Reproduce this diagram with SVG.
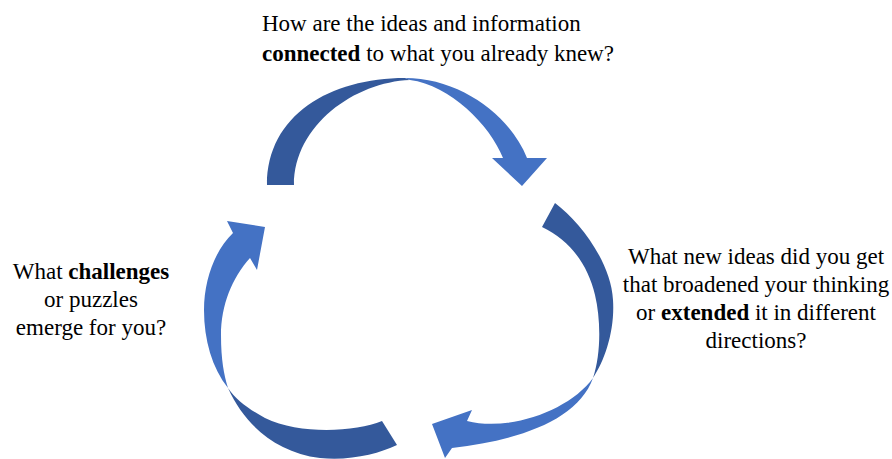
<svg xmlns="http://www.w3.org/2000/svg" width="892" height="459" viewBox="0 0 892 459">
<style>
.t{font-family:'Liberation Serif','Times New Roman',serif;font-size:23px;fill:#000}
.b{font-weight:bold}
.dk{fill:#34599B}
.lt{fill:#4472C4}
</style>
<rect width="892" height="459" fill="#fff"/>
<g id="connectors">
  <g id="arrow-top">
    <path class="dk" d="M267,185 C267,115 330,78 405,78 L410,80 C355,82 294,125 294,185 Z"/>
    <path class="lt" d="M405,78 C460,78 510,115 527,158 L547,158 L522,186 L492,158 L503,158 C490,125 450,85 410,80 Z"/>
  </g>
  <g id="arrow-right">
    <path class="dk" d="M555,203 C580,222 611,262 613,300 C615,330 605,360 593,378 C601,355 601,320 595,295 C588,265 570,240 542,227 Z"/>
    <path class="lt" d="M593,378 C578,420 520,440 452,448 L445,458 L432,424 L472,410 L467,421 C510,432 570,410 593,378 Z"/>
  </g>
  <g id="arrow-left">
    <path class="lt" d="M228,388 C212,368 204,340 204,310 C204,280 215,250 233,233 L227,221 L265,227 L257,270 L250,258 C232,278 221,305 221,335 C221,360 224,375 228,388 Z"/>
    <path class="dk" d="M228,388 C245,425 275,452 320,458 C350,461 378,454 397,445 L382,421 C355,432 300,435 265,418 C250,410 236,400 228,388 Z"/>
  </g>
</g>
<g id="node-connected">
  <text class="t" x="262" y="31">How are the ideas and information</text>
  <text class="t" x="262" y="61"><tspan class="b">connected</tspan> to what you already knew?</text>
</g>
<g id="node-extended" text-anchor="middle">
  <text class="t" x="756" y="263.5">What new ideas did you get</text>
  <text class="t" x="756" y="291.5">that broadened your thinking</text>
  <text class="t" x="756" y="319.5">or <tspan class="b">extended</tspan> it in different</text>
  <text class="t" x="756" y="347.5">directions?</text>
</g>
<g id="node-challenges" text-anchor="middle">
  <text class="t" x="91" y="279">What <tspan class="b">challenges</tspan></text>
  <text class="t" x="91" y="307">or puzzles</text>
  <text class="t" x="91" y="335">emerge for you?</text>
</g>
</svg>
